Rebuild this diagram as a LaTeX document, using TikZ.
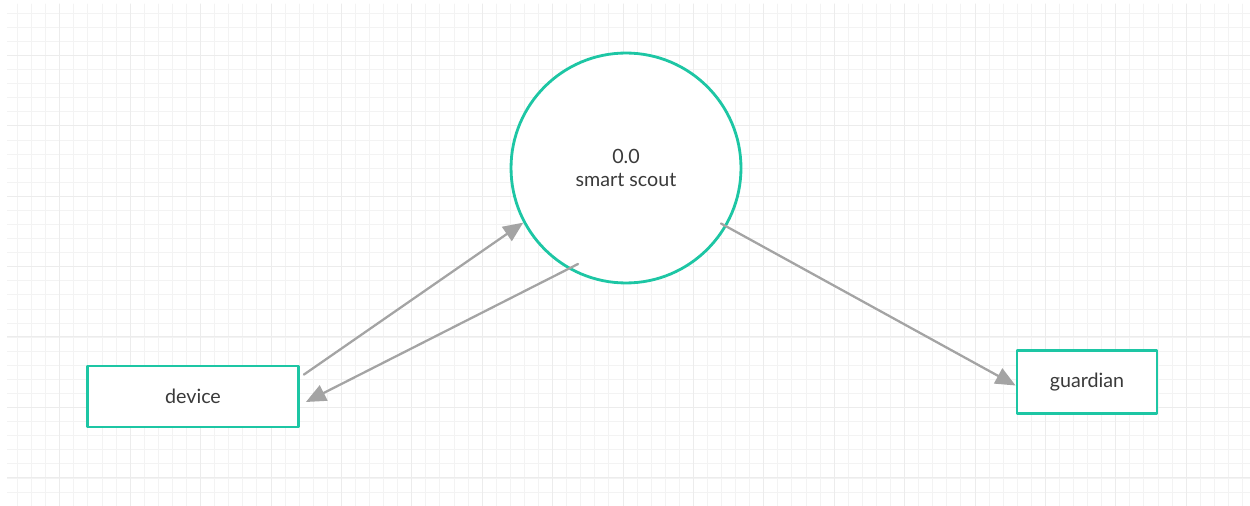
\documentclass[tikz,border=0pt]{standalone}
\usepackage{fontspec}
\setmainfont{Lato}
\usetikzlibrary{arrows.meta}

\definecolor{flowteal}{HTML}{1DC6A4}
\definecolor{flowgray}{HTML}{A4A4A4}
\definecolor{gridminor}{HTML}{F3F3F3}
\definecolor{gridmajor}{HTML}{ECECEC}
\definecolor{labelgray}{HTML}{3A3A3A}

\tikzset{
	process/.style={circle, draw=flowteal, line width=1.6pt, fill=white,
		minimum size=4.6cm, align=center, text=labelgray,
		font=\fontsize{11.2}{14}\selectfont},
	entity/.style={rectangle, draw=flowteal, line width=1.6pt, fill=white,
		text=labelgray, font=\fontsize{11.2}{14}\selectfont},
	dataflow/.style={flowgray, line width=1.3pt,
		-{Triangle[length=0.4cm, width=0.34cm]}},
}

\begin{document}
\begin{tikzpicture}[x=0.02cm, y=-0.02cm, line cap=round, line join=round]
			% Page size in pixels
			\useasboundingbox (0,0) rectangle (1250,506);
			
			% Background grid
			\begin{scope}
				\clip (7,4) rectangle (1250,506);
				\foreach \i in {0,...,88}
				\draw[gridminor, line width=0.5pt] ({3.42+14.08*\i},4) -- ({3.42+14.08*\i},506);
				\foreach \j in {1,...,36}
				\draw[gridminor, line width=0.5pt] (7,{-0.78+14.08*\j}) -- (1250,{-0.78+14.08*\j});
				\foreach \k in {1,...,17}
				\draw[gridmajor, line width=0.5pt] ({-10.66+70.4*\k},4) -- ({-10.66+70.4*\k},506);
				\foreach \k in {1,...,7}
				\draw[gridmajor, line width=0.5pt] (7,{-15.1+70.4*\k}) -- (1250,{-15.1+70.4*\k});
			\end{scope}
			
			% Process and external entities
			\node[process] (scout) at (626,168) {0.0\\[-0.5pt]smart scout};
			\node[entity, minimum width=4.22cm, minimum height=1.22cm] (device) at (193,396.5) {device};
			\node[entity, minimum width=2.8cm, minimum height=1.25cm] (guardian) at (1087,382) {guardian};
			
			% Loose ends of the flows
			\coordinate (devout) at ([shift={(4,10)}]device.north east);
			\coordinate (scoutout) at ([shift={(-48,96)}]scout.center);
			\coordinate (scoutright) at ([shift={(95,55.5)}]scout.center);
			\coordinate (devin) at ([shift={(6,5.5)}]device.east);
			
			% Data flows
			\draw[dataflow] (devout) -- (scout.208);
			\draw[dataflow] (scoutout) -- (devin);
			\draw[dataflow] (scoutright) -- ([yshift=-2]guardian.west);
		\end{tikzpicture}
\end{document}
